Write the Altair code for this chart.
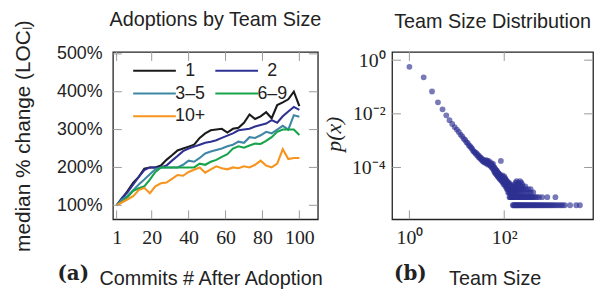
import altair as alt
import pandas as pd

# ---------------- Panel (a): median % change by team size ----------------
commits = [1, 4, 7, 10, 13, 16, 19, 22, 25, 28, 31, 34, 37, 40, 43, 46, 49,
           52, 55, 58, 61, 64, 67, 70, 73, 76, 79, 82, 85, 88, 91, 94, 97, 100]

size_1 = [100, 118, 138, 160, 175, 197, 200, 200, 205, 220, 232, 245, 250, 255,
          260, 278, 290, 298, 300, 302, 292, 302, 305, 318, 340, 328, 335, 346,
          330, 365, 372, 380, 400, 362]
size_2 = [100, 120, 135, 155, 175, 193, 200, 200, 200, 205, 218, 230, 243, 250,
          255, 260, 265, 268, 272, 278, 284, 290, 298, 300, 302, 308, 312, 316,
          325, 318, 335, 348, 360, 352]
size_3_5 = [100, 115, 125, 140, 155, 168, 182, 195, 200, 200, 200, 200, 207, 218,
            215, 225, 237, 242, 246, 250, 256, 260, 268, 265, 280, 278, 285, 294,
            290, 300, 310, 300, 338, 334]
size_6_9 = [100, 110, 122, 138, 145, 150, 168, 188, 200, 200, 200, 200, 200, 200,
            200, 210, 207, 215, 220, 228, 235, 250, 256, 252, 258, 263, 262, 270,
            280, 294, 300, 300, 300, 286]
size_10p = [100, 108, 116, 124, 140, 146, 132, 150, 158, 160, 170, 180, 178, 188,
            194, 200, 186, 195, 203, 198, 195, 200, 198, 203, 200, 207, 218, 205,
            200, 210, 248, 222, 225, 225]

team_labels = ["1", "2", "3\u20135", "6\u20139", "10+"]
team_colors = ["#1a1a1a", "#2e3192", "#3f87a4", "#16a34a", "#f7941d"]
# legend is filled column by column: column 1 = 1, 3-5, 10+; column 2 = 2, 6-9
legend_order = ["1", "3\u20135", "10+", "2", "6\u20139"]

x_ticks_a = [1, 20, 40, 60, 80, 100]
y_ticks_a = [100, 200, 300, 400, 500]

# ---------------- Panel (b): team size distribution ----------------
total_teams = 256000
sizes_small = list(range(1, 151))
counts_small = [
    145000, 58600, 17400, 6900, 3760, 2250, 1490, 1075, 820, 665,
    540, 430, 372, 300, 272, 225, 205, 170, 160, 140,
    128, 108, 100, 95, 84, 88, 72, 75, 62, 66,
    55, 60, 50, 54, 46, 43, 49, 40, 44, 38,
    42, 48, 36, 45, 33, 40, 37, 44, 35, 31,
    34, 29, 38, 26, 33, 30, 24, 35, 22, 27,
    19, 25, 17, 23, 16, 21, 15, 20, 14, 19,
    13, 17, 12, 16, 14, 11, 15, 12, 10, 14,
    11, 13, 9, 12, 45, 10, 12, 8, 11, 9,
    13, 8, 10, 7, 11, 9, 6, 10, 8, 12,
    7, 9, 6, 8, 10, 5, 7, 9, 6, 8,
    5, 7, 4, 6, 8, 5, 6, 4, 7, 5,
    3, 6, 4, 5, 7, 3, 5, 4, 2, 6,
    3, 4, 5, 2, 4, 3, 6, 2, 4, 3,
    5, 2, 4, 3, 2, 5, 3, 4, 2, 3,
]
sizes_count1 = [152, 158, 165, 171, 178, 186, 193, 201, 210, 219, 228, 240, 251,
                263, 277, 290, 305, 320, 338, 355, 372, 392, 412, 435, 458, 482,
                510, 540, 570, 605, 640, 680, 722, 770, 820, 880, 945, 1010, 1090,
                1180, 1290, 1420, 1560, 1700, 1900, 2450, 3300, 3950]
sizes_count2 = [153, 160, 168, 175, 183, 190, 198, 207, 216, 226, 236, 247, 259,
                272, 286, 300, 316, 334, 352, 372, 395, 420, 450, 490, 540, 630,
                810, 1200]
sizes_count3 = [155, 163, 172, 181, 195, 204, 222, 243, 268, 295, 330, 365, 410]
sizes_count4 = [157, 167, 180, 197, 213, 232, 256, 282, 318, 360]
sizes_count5 = [161, 176, 189, 220, 245, 278]
sizes_count6 = [170, 185, 205, 238]
sizes_count7 = [174, 200, 230]
sizes_count8 = [182, 215]

x_ticks_b = [1, 100]
y_ticks_b = [1, 0.01, 0.0001]

# ---------------- tables ----------------
rows = []
for lab, vals in zip(team_labels, [size_1, size_2, size_3_5, size_6_9, size_10p]):
    for c, v in zip(commits, vals):
        rows.append({"commit": c, "change": v, "team": lab})
df_a = pd.DataFrame(rows)

dist_sizes = list(sizes_small)
dist_counts = list(counts_small)
for cnt, lst in [(1, sizes_count1), (2, sizes_count2), (3, sizes_count3),
                 (4, sizes_count4), (5, sizes_count5), (6, sizes_count6),
                 (7, sizes_count7), (8, sizes_count8)]:
    dist_sizes += lst
    dist_counts += [cnt] * len(lst)
df_b = pd.DataFrame({"size": dist_sizes, "count": dist_counts})
df_b["p"] = df_b["count"] / total_teams

W1, W2, H = 207, 203, 169
TICK = 9
TICK_COLOR = "#9a9a9a"
TXT = "#222222"

color_map = dict(zip(team_labels, team_colors))

# ---------------- panel (a) ----------------
xs_a = alt.Scale(domain=[-1, 110], nice=False, zero=False)
ys_a = alt.Scale(domain=[63, 505], nice=False, zero=False)

lines = alt.Chart(df_a).mark_line(strokeWidth=2.1).encode(
    x=alt.X("commit:Q", scale=xs_a, axis=alt.Axis(
        values=x_ticks_a, ticks=False, domain=False, grid=False, tickSize=0,
        labelFont="Liberation Serif", labelFontSize=20, labelPadding=8,
        labelColor=TXT,
        title="Commits # After Adoption", titleFont="Liberation Sans",
        titleFontSize=20, titleFontWeight="normal", titleColor=TXT,
        titleAlign="left", titleBaseline="top", titleX=-14, titleY=50)),
    y=alt.Y("change:Q", scale=ys_a, axis=alt.Axis(
        values=y_ticks_a, ticks=False, domain=False, grid=False, tickSize=0,
        labelExpr="datum.value + '%'", labelFont="Liberation Sans",
        labelFontSize=18, labelPadding=11, labelColor=TXT,
        title="median % change (LOC\u2097)", titleFont="Liberation Sans",
        titleFontSize=21, titleFontWeight="normal", titleColor=TXT,
        titlePadding=23)),
    color=alt.Color("team:N", sort=legend_order,
                    scale=alt.Scale(domain=legend_order,
                                    range=[color_map[k] for k in legend_order]),
                    legend=alt.Legend(
                        title=None, orient="none", legendX=33, legendY=10,
                        columns=2, symbolType="M-4,0H4", symbolSize=116,
                        symbolStrokeWidth=2, labelFont="Liberation Sans",
                        labelFontSize=18, labelColor=TXT, labelAlign="center",
                        labelOffset=27, columnPadding=5, rowPadding=5,
                        padding=0)),
)

xt_a = pd.DataFrame({"commit": x_ticks_a})
yt_a = pd.DataFrame({"change": y_ticks_a})
rule_a = alt.Chart(xt_a).mark_rule(color=TICK_COLOR, strokeWidth=1)
rule_ay = alt.Chart(yt_a).mark_rule(color=TICK_COLOR, strokeWidth=1)
ticks_a = [
    rule_a.encode(x=alt.X("commit:Q", scale=xs_a),
                  y=alt.value(H), y2=alt.value(H - TICK)),
    rule_a.encode(x=alt.X("commit:Q", scale=xs_a),
                  y=alt.value(0), y2=alt.value(TICK)),
    rule_ay.encode(y=alt.Y("change:Q", scale=ys_a),
                   x=alt.value(0), x2=alt.value(TICK)),
    rule_ay.encode(y=alt.Y("change:Q", scale=ys_a),
                   x=alt.value(W1), x2=alt.value(W1 - TICK)),
]
cap_a = alt.Chart(pd.DataFrame({"t": ["(a)"]})).mark_text(
    align="left", baseline="middle", font="DejaVu Serif", fontWeight="bold",
    fontSize=20, color=TXT).encode(text="t:N", x=alt.value(-56), y=alt.value(H + 55))

panel_a = alt.layer(lines, *ticks_a, cap_a).properties(
    width=W1, height=H,
    title=alt.TitleParams("Adoptions by Team Size", font="Liberation Sans",
                          fontSize=20, fontWeight="normal", color=TXT,
                          anchor="middle", frame="group", offset=-11))

# ---------------- panel (b) ----------------
xs_b = alt.Scale(type="log", domain=[0.431, 7460], nice=False)
ys_b = alt.Scale(type="log", domain=[1.17e-6, 2.02], nice=False)

pts = alt.Chart(df_b).mark_circle(size=34, opacity=0.65, color="#2e3192").encode(
    x=alt.X("size:Q", scale=xs_b, axis=alt.Axis(
        values=x_ticks_b, ticks=False, domain=False, grid=False, tickSize=0,
        labelExpr="datum.value > 10 ? '10\u00b2' : '10\u2070'",
        labelFont="Liberation Serif", labelFontSize=20, labelPadding=8,
        labelColor=TXT,
        title="Team Size", titleFont="Liberation Sans", titleFontSize=20,
        titleFontWeight="normal", titleColor=TXT, titleAlign="left",
        titleBaseline="top", titleX=57, titleY=50)),
    y=alt.Y("p:Q", scale=ys_b, axis=alt.Axis(
        values=y_ticks_b, ticks=False, domain=False, grid=False, tickSize=0,
        labelExpr="datum.value > 0.5 ? '10\u2070' : (datum.value > 0.005 ? '10\u207b\u00b2' : '10\u207b\u2074')",
        labelFont="Liberation Serif", labelFontSize=20, labelPadding=7,
        labelColor=TXT,
        title="p(x)", titleFont="Liberation Serif", titleFontStyle="italic",
        titleFontSize=22, titleFontWeight="normal", titleColor=TXT,
        titleAngle=270, titleBaseline="middle", titleAlign="center",
        titleX=-59, titleY=H / 2 - 2)),
)

xt_b = pd.DataFrame({"size": x_ticks_b})
yt_b = pd.DataFrame({"p": y_ticks_b})
rule_b = alt.Chart(xt_b).mark_rule(color=TICK_COLOR, strokeWidth=1)
rule_by = alt.Chart(yt_b).mark_rule(color=TICK_COLOR, strokeWidth=1)
ticks_b = [
    rule_b.encode(x=alt.X("size:Q", scale=xs_b),
                  y=alt.value(H), y2=alt.value(H - TICK)),
    rule_b.encode(x=alt.X("size:Q", scale=xs_b),
                  y=alt.value(0), y2=alt.value(TICK)),
    rule_by.encode(y=alt.Y("p:Q", scale=ys_b),
                   x=alt.value(0), x2=alt.value(TICK)),
    rule_by.encode(y=alt.Y("p:Q", scale=ys_b),
                   x=alt.value(W2), x2=alt.value(W2 - TICK)),
]
cap_b = alt.Chart(pd.DataFrame({"t": ["(b)"]})).mark_text(
    align="left", baseline="middle", font="DejaVu Serif", fontWeight="bold",
    fontSize=20, color=TXT).encode(text="t:N", x=alt.value(2), y=alt.value(H + 55))

panel_b = alt.layer(pts, *ticks_b, cap_b).properties(
    width=W2, height=H,
    title=alt.TitleParams("Team Size Distribution", font="Liberation Sans",
                          fontSize=20, fontWeight="normal", color=TXT,
                          anchor="middle", frame="group", offset=19))

chart = alt.hconcat(panel_a, panel_b, spacing=75, bounds="flush").properties(
    padding={"left": 4, "top": 0, "right": 0, "bottom": 0},
    background="white"
).configure_view(stroke=TXT, strokeWidth=1.3)

chart.save("out.html", embed_options={"renderer": "svg", "actions": False})
